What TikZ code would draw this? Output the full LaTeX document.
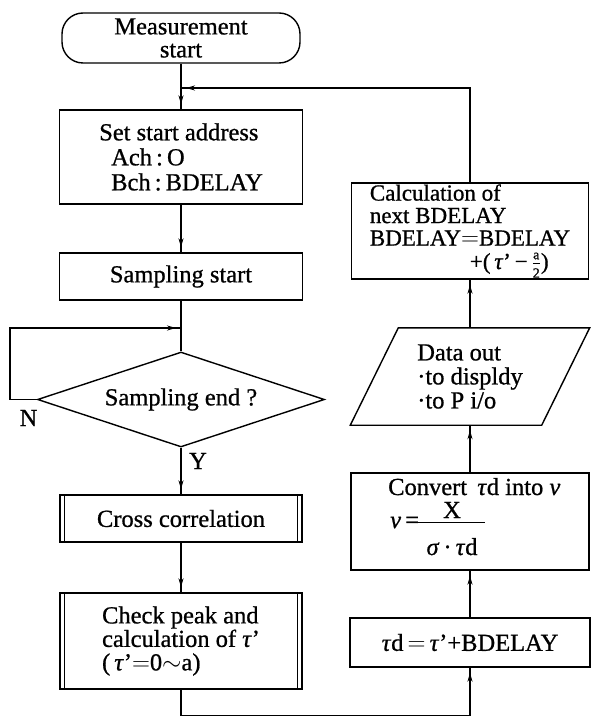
\documentclass[tikz,border=0pt]{standalone}
\usepackage{fontspec}
\setmainfont{Liberation Serif}[FakeBold=0.8]
\usetikzlibrary{shapes.geometric,arrows.meta,decorations.markings}
\begin{document}
\begin{tikzpicture}[x=1pt,y=-1pt,
  every node/.style={font=\fontsize{24.5}{24}\selectfont, inner sep=0pt},
  outline/.style={draw, line width=1.4pt},
  procbox/.style={outline, rectangle, align=left},
  conn/.style={line width=1.4pt},
  flow/.style={conn, postaction={decorate},
    decoration={markings, mark=at position -5pt with {\arrow{Stealth[length=9pt,width=5pt]}}}},
  tight/.style={font=\fontsize{24.5}{#1}\selectfont}
]
\useasboundingbox (0,0) rectangle (590,719);

% left column
\node[outline, rounded corners=21pt, minimum width=238pt, minimum height=50pt,
      align=center, tight=23] (start) at (181,38) {Measurement\\start};
\node[procbox, minimum width=243pt, minimum height=94pt, tight=25] (setaddr) at (181,157)
  {Set start address\\\hspace*{12pt}Ach\,:\,O\\\hspace*{12pt}Bch\,:\,BDELAY};
\node[procbox, minimum width=243pt, minimum height=47pt] (samp) at (181,276.5) {Sampling start};
\node[outline, diamond, aspect=3, minimum width=287pt, minimum height=95pt] (dec) at (181,399.5)
  {Sampling end ?};
\node[procbox, minimum width=242pt, minimum height=47pt] (cross) at (181,518.5) {Cross correlation};
\node[procbox, minimum width=242pt, minimum height=96pt, tight=23.5] (peak) at (181,641)
  {Check peak and\\calculation of \textit{τ}'\\(\,\textit{τ}'$=$0$\sim$a)};

% side bars of the predefined-process boxes
\foreach \n in {cross,peak} {
  \draw[conn, line width=1.2pt] ([xshift=5pt]\n.north west) -- ([xshift=5pt]\n.south west);
  \draw[conn, line width=1.2pt] ([xshift=-5pt]\n.north east) -- ([xshift=-5pt]\n.south east);
}

% right column
\node[procbox, minimum width=237pt, minimum height=96pt, font=\fontsize{23}{22.5}\selectfont] (calc) at (470,231)
  {Calculation of\\next BDELAY\\BDELAY$=$BDELAY\\[1pt]\hspace*{100pt}+(\,\textit{τ}'\,−\,$\frac{\mbox{\fontsize{14}{14}\selectfont a}}{\mbox{\fontsize{14}{14}\selectfont 2}}$)};

% data output: parallelogram drawn round a text node
\node[align=left, minimum width=191pt, minimum height=97pt, tight=24] (dataout) at (470,376.5)
  {Data out\\·to displdy\\·to P i/o};
\draw[outline] ([xshift=24pt]dataout.north west) -- ([xshift=24pt]dataout.north east)
  -- ([xshift=-24pt]dataout.south east) -- ([xshift=-24pt]dataout.south west) -- cycle;

% velocity conversion box with its formula
\node[procbox, minimum width=238pt, minimum height=97pt] (conv) at (470,521.5) {};
\node[anchor=base west] (convhead) at (388,495) {Convert \,\textit{τ}d into \textit{v}};
\node[anchor=base west] (convv) at (390,528) {\textit{v}\,=};
\node[anchor=base] (convnum) at (452,518) {X};
\node[anchor=base] (convden) at (452,555) {\textit{σ}\,·\,\textit{τ}d};
\coordinate (barL) at (418,522);
\coordinate (barR) at (485,522);
\draw[line width=1pt] (barL) -- (barR);

\node[procbox, minimum width=240pt, minimum height=49pt] (tdbox) at (470,642.5)
  {\textit{τ}d$\,=\,$\textit{τ}'+BDELAY};

% branch labels
\node (nlab) at (28.5,418) {N};
\node (ylab) at (198,461) {Y};

% junction points
\coordinate (backin) at (181,88);
\coordinate (nturn) at (10,399.5);
\coordinate (nin) at (181,328);

% connectors
\draw[flow] (start.south) -- (setaddr.north);
\draw[flow] (setaddr.south) -- (samp.north);
\draw[conn] (samp.south) -- (dec.north);
\draw[flow] (dec.west) -- (nturn) |- (nin);
\draw[flow] (dec.south) -- (cross.north);
\draw[flow] (cross.south) -- (peak.north);
\draw[flow] (peak.south) -- ++(0,26) -| (tdbox.south);
\draw[flow] (tdbox.north) -- (conv.south);
\draw[flow] (conv.north) -- (dataout.south);
\draw[flow] (dataout.north) -- (calc.south);
\draw[flow] (calc.north) |- (backin);
\end{tikzpicture}
\end{document}
